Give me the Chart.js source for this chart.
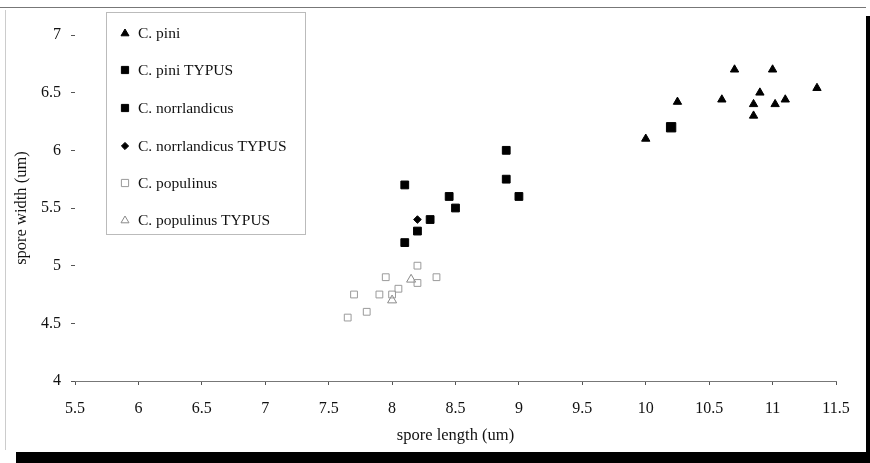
<!DOCTYPE html>
<html>
<head>
<meta charset="utf-8">
<script src="https://cdn.jsdelivr.net/npm/chart.js@4"></script>
<style>
html,body{margin:0;padding:0;background:#fff;}
canvas{display:block;}
</style>
</head>
<body>
<canvas id="c" width="870" height="463"></canvas>
<script>
// ---- data ----
const seriesNames = ["C. pini", "C. pini TYPUS", "C. norrlandicus", "C. norrlandicus TYPUS", "C. populinus", "C. populinus TYPUS"];

const piniX = [10.0, 10.25, 10.6, 10.7, 10.85, 10.85, 10.9, 11.0, 11.02, 11.1, 11.35];
const piniY = [6.1, 6.42, 6.44, 6.7, 6.4, 6.3, 6.5, 6.7, 6.4, 6.44, 6.54];

const piniTypusX = [10.2];
const piniTypusY = [6.2];

const norrX = [8.1, 8.1, 8.2, 8.3, 8.45, 8.5, 8.9, 8.9, 9.0];
const norrY = [5.2, 5.7, 5.3, 5.4, 5.6, 5.5, 5.75, 6.0, 5.6];

const norrTypusX = [8.2];
const norrTypusY = [5.4];

const popX = [7.65, 7.8, 7.7, 7.9, 8.0, 8.05, 7.95, 8.2, 8.35, 8.2];
const popY = [4.55, 4.6, 4.75, 4.75, 4.75, 4.8, 4.9, 4.85, 4.9, 5.0];

const popTypusX = [8.15, 8.0];
const popTypusY = [4.88, 4.7];

const xTickValues = [5.5, 6, 6.5, 7, 7.5, 8, 8.5, 9, 9.5, 10, 10.5, 11, 11.5];
const yTickValues = [4, 4.5, 5, 5.5, 6, 6.5, 7];

const xTitle = "spore length (um)";
const yTitle = "spore width (um)";

function pts(xs, ys) { return xs.map((x, i) => ({x: x, y: ys[i]})); }

const styles = [
  {pointStyle: 'triangle', radius: 4.8, fill: '#000', stroke: '#000', bw: 1},
  {pointStyle: 'rect', radius: 6.6, fill: '#000', stroke: '#000', bw: 1},
  {pointStyle: 'rect', radius: 5.5, fill: '#000', stroke: '#000', bw: 1},
  {pointStyle: 'rectRot', radius: 3.8, fill: '#000', stroke: '#000', bw: 1},
  {pointStyle: 'rect', radius: 4.8, fill: 'rgba(0,0,0,0)', stroke: '#9a9a9a', bw: 1},
  {pointStyle: 'triangle', radius: 5.2, fill: 'rgba(0,0,0,0)', stroke: '#8a8a8a', bw: 1}
];
const seriesData = [
  pts(piniX, piniY), pts(piniTypusX, piniTypusY), pts(norrX, norrY),
  pts(norrTypusX, norrTypusY), pts(popX, popY), pts(popTypusX, popTypusY)
];

const datasets = seriesNames.map((n, i) => ({
  label: n,
  data: seriesData[i],
  pointStyle: styles[i].pointStyle,
  pointRadius: styles[i].radius,
  pointHoverRadius: styles[i].radius,
  backgroundColor: styles[i].fill,
  borderColor: styles[i].stroke,
  pointBorderWidth: styles[i].bw,
  showLine: false
}));

const FONT = "'Liberation Serif', 'Times New Roman', serif";

function drawMarker(ctx, style, x, y) {
  ctx.save();
  ctx.fillStyle = style.fill;
  ctx.strokeStyle = style.stroke;
  ctx.lineWidth = 1;
  ctx.beginPath();
  if (style.pointStyle === 'triangle') {
    const r = 4;
    ctx.moveTo(x, y - r);
    ctx.lineTo(x + r, y + r * 0.7);
    ctx.lineTo(x - r, y + r * 0.7);
    ctx.closePath();
  } else if (style.pointStyle === 'rect') {
    const s = 3.6;
    ctx.rect(x - s, y - s, 2 * s, 2 * s);
  } else {
    const r = 3.6;
    ctx.moveTo(x, y - r); ctx.lineTo(x + r, y); ctx.lineTo(x, y + r); ctx.lineTo(x - r, y);
    ctx.closePath();
  }
  ctx.fill();
  ctx.stroke();
  ctx.restore();
}

const decor = {
  id: 'decor',
  beforeDraw(chart) {
    const ctx = chart.ctx;
    ctx.save();
    ctx.fillStyle = '#fff';
    ctx.fillRect(0, 0, chart.width, chart.height);
    ctx.restore();
  },
  afterDraw(chart) {
    const ctx = chart.ctx;
    ctx.save();
    // scan frame
    ctx.strokeStyle = '#777';
    ctx.lineWidth = 1;
    ctx.beginPath(); ctx.moveTo(0, 7.5); ctx.lineTo(866, 7.5); ctx.stroke();
    ctx.strokeStyle = '#ccc';
    ctx.beginPath(); ctx.moveTo(5.5, 10); ctx.lineTo(5.5, 450); ctx.stroke();
    ctx.fillStyle = '#000';
    ctx.fillRect(866, 16, 4, 447);
    ctx.fillRect(16, 452, 854, 11);

    // legend box
    const bx = 106, by = 12, bw = 199, bh = 222;
    ctx.fillStyle = '#fff';
    ctx.fillRect(bx, by, bw, bh);
    ctx.strokeStyle = '#bbb';
    ctx.strokeRect(bx + 0.5, by + 0.5, bw, bh);
    const rows = [33, 70, 108, 146, 183, 220];
    ctx.font = "15.5px " + FONT;
    ctx.textBaseline = 'middle';
    ctx.textAlign = 'left';
    seriesNames.forEach((n, i) => {
      drawMarker(ctx, styles[i], 125, rows[i]);
      ctx.fillStyle = '#111';
      ctx.fillText(n, 138, rows[i] + 1);
    });
    ctx.restore();
  }
};

new Chart(document.getElementById('c'), {
  type: 'scatter',
  data: {datasets: datasets},
  options: {
    responsive: false,
    animation: false,
    devicePixelRatio: 1,
    layout: {padding: {left: 0, right: 34, top: 35, bottom: 0}},
    plugins: {legend: {display: false}, tooltip: {enabled: false}},
    scales: {
      x: {
        type: 'linear',
        min: 5.5, max: 11.5,
        afterBuildTicks(scale) { scale.ticks = xTickValues.map(v => ({value: v})); },
        afterFit(scale) { scale.height = 82; },
        grid: {display: true, drawOnChartArea: false, drawTicks: true, tickLength: 4, color: '#555'},
        border: {display: true, color: '#777', width: 1},
        ticks: {
          padding: 14,
          color: '#111',
          font: {family: FONT, size: 16},
          callback: (v) => String(v)
        },
        title: {
          display: true, text: xTitle, color: '#111',
          font: {family: FONT, size: 16.5},
          padding: {top: 0, bottom: 17}
        }
      },
      y: {
        type: 'linear',
        min: 4, max: 7,
        afterBuildTicks(scale) { scale.ticks = yTickValues.map(v => ({value: v})); },
        afterFit(scale) { scale.width = 75; },
        grid: {display: true, drawOnChartArea: false, drawTicks: true, tickLength: 4, color: '#555'},
        border: {display: false},
        ticks: {
          padding: 10,
          color: '#111',
          font: {family: FONT, size: 16},
          callback: (v) => String(v)
        },
        title: {
          display: true, text: yTitle, color: '#111',
          font: {family: FONT, size: 16.5},
          padding: {top: 12, bottom: 0}
        }
      }
    }
  },
  plugins: [decor]
});
</script>
</body>
</html>
